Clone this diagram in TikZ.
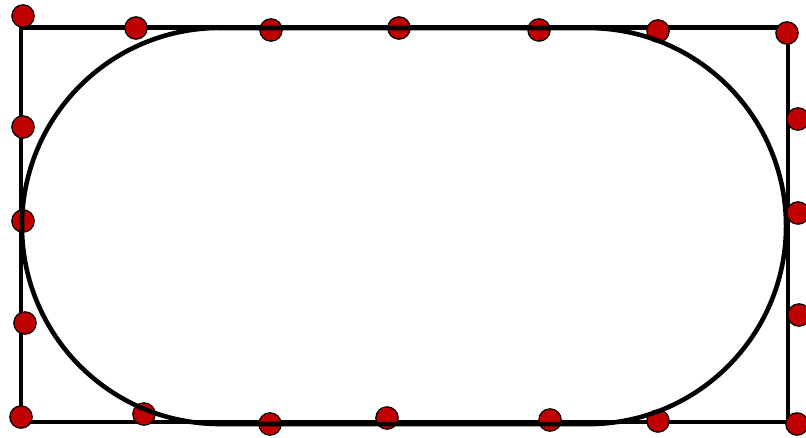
\documentclass[tikz,border=0pt]{standalone}
\usepackage{xcolor}
\usepackage{tikz}
\definecolor{dotred}{RGB}{192,0,0}

\begin{document}
\begin{tikzpicture}[
    x=0.025cm, y=0.025cm,
    frame/.style={draw, line width=0.115cm, line join=miter},
    track/.style={draw, line width=0.115cm},
    dot/.style={circle, draw, fill=dotred, line width=0.85pt, minimum size=0.56cm, inner sep=0pt},
]
\useasboundingbox (0,0) rectangle (806,437);

% rectangle
\path[frame] (21,15) rectangle (788,409.5);

% dots
\node[dot] (tl)  at (23,421)  {};
\node[dot] (t1)  at (136,409) {};
\node[dot] (t2)  at (271,407) {};
\node[dot] (t3)  at (399,409) {};
\node[dot] (t4)  at (539,407) {};
\node[dot] (t5)  at (658,406) {};
\node[dot] (tr)  at (787,404) {};
\node[dot] (l1)  at (23,310)  {};
\node[dot] (l2)  at (23,216)  {};
\node[dot] (l3)  at (25,114)  {};
\node[dot] (bl)  at (21,20)   {};
\node[dot] (b1)  at (144,23)  {};
\node[dot] (b2)  at (270,13)  {};
\node[dot] (b3)  at (387,19)  {};
\node[dot] (b4)  at (550,17)  {};
\node[dot] (b5)  at (658,16)  {};
\node[dot] (br)  at (797,13)  {};
\node[dot] (r1)  at (798,318) {};
\node[dot] (r2)  at (798,224) {};
\node[dot] (r3)  at (799,122) {};

% stadium
\path[track] (220,409) -- (588,409) arc[start angle=90, end angle=-90, radius=4.95cm]
    -- (220,13) arc[start angle=270, end angle=90, radius=4.95cm] -- cycle;

\end{tikzpicture}
\end{document}
